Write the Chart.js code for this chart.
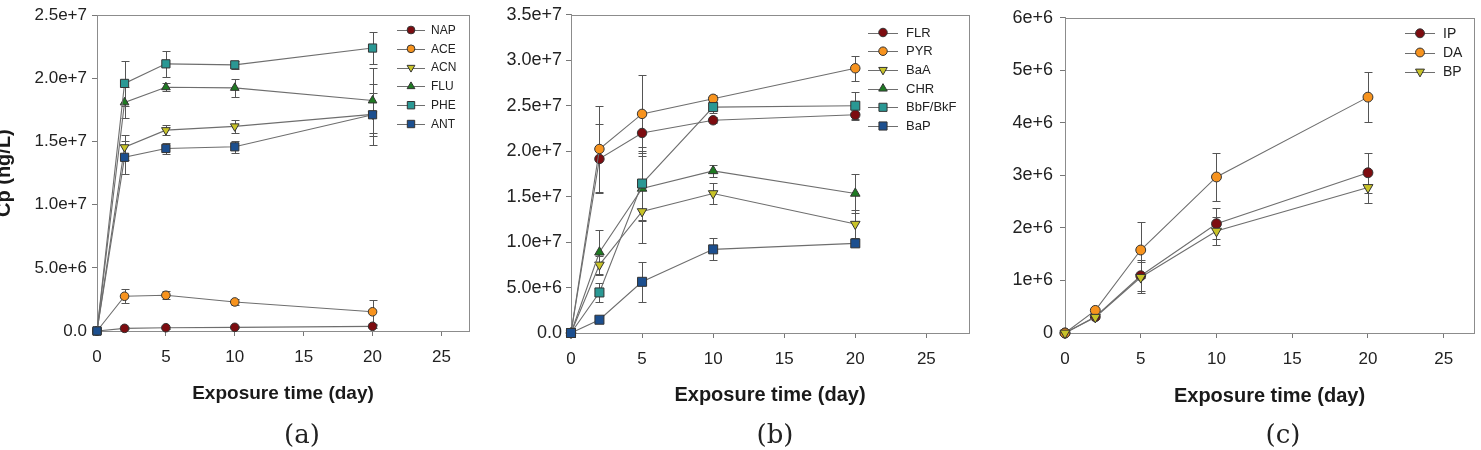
<!DOCTYPE html>
<html>
<head>
<meta charset="utf-8">
<script src="https://cdn.jsdelivr.net/npm/chart.js@4.4.1/dist/chart.umd.min.js"></script>
<style>
  body { margin: 0; background: #fff; width: 1481px; height: 450px; overflow: hidden; position: relative; }
  .panel { position: absolute; top: 0; height: 450px; }
  .tag { position: absolute; top: 419px; font: 26px "DejaVu Serif", "Liberation Serif", serif; line-height: 30px; transform: translateX(-50%); color: #222; }
</style>
</head>
<body>
<div class="panel" style="left:-11px;width:493px"><canvas id="chartA"></canvas></div>
<div class="panel" style="left:490px;width:490px"><canvas id="chartB"></canvas></div>
<div class="panel" style="left:980px;width:501px"><canvas id="chartC"></canvas></div>
<div class="tag" style="left:302px">(a)</div>
<div class="tag" style="left:775px">(b)</div>
<div class="tag" style="left:1283px">(c)</div>
<script>
// exposure days and axis ticks
const days = [0, 2, 5, 10, 20];
const xTicks = [0, 5, 10, 15, 20, 25];

const yTicksA = [0, 5e6, 1e7, 1.5e7, 2e7, 2.5e7];
const yLabelsA = ['0.0', '5.0e+6', '1.0e+7', '1.5e+7', '2.0e+7', '2.5e+7'];
const yTicksB = [0, 5e6, 1e7, 1.5e7, 2e7, 2.5e7, 3e7, 3.5e7];
const yLabelsB = ['0.0', '5.0e+6', '1.0e+7', '1.5e+7', '2.0e+7', '2.5e+7', '3.0e+7', '3.5e+7'];
const yTicksC = [0, 1e6, 2e6, 3e6, 4e6, 5e6, 6e6];
const yLabelsC = ['0', '1e+6', '2e+6', '3e+6', '4e+6', '5e+6', '6e+6'];

// (a) Cp values and errors
const napVals = [0, 0.21e6, 0.26e6, 0.29e6, 0.37e6];
const napErr  = [0, 0.08e6, 0.08e6, 0.08e6, 0.12e6];
const aceVals = [0, 2.75e6, 2.83e6, 2.3e6, 1.52e6];
const aceErr  = [0, 0.55e6, 0.3e6, 0.25e6, 0.95e6];
const acnVals = [0, 14.55e6, 15.9e6, 16.2e6, 17.15e6];
const acnErr  = [0, 1.0e6, 0.4e6, 0.5e6, 1.7e6];
const fluVals = [0, 18.1e6, 19.3e6, 19.25e6, 18.25e6];
const fluErr  = [0, 1.2e6, 0.3e6, 0.7e6, 2.6e6];
const pheVals = [0, 19.6e6, 21.15e6, 21.07e6, 22.4e6];
const pheErr  = [0, 1.75e6, 1.05e6, 0.3e6, 1.25e6];
const antVals = [0, 13.75e6, 14.45e6, 14.58e6, 17.12e6];
const antErr  = [0, 1.3e6, 0.45e6, 0.45e6, 2.4e6];

// (b)
const flrVals = [0, 19.15e6, 22.0e6, 23.4e6, 24.0e6];
const flrErr  = [0, 3.8e6, 2.0e6, 0.35e6, 0.6e6];
const pyrVals = [0, 20.24e6, 24.1e6, 25.76e6, 29.12e6];
const pyrErr  = [0, 4.7e6, 4.3e6, 0.4e6, 1.4e6];
const baaVals = [0, 7.5e6, 13.37e6, 15.35e6, 11.98e6];
const baaErr  = [0, 1.0e6, 3.5e6, 1.2e6, 1.5e6];
const chrVals = [0, 8.88e6, 15.9e6, 17.83e6, 15.35e6];
const chrErr  = [0, 2.5e6, 3.6e6, 0.7e6, 2.1e6];
const bbfVals = [0, 4.46e6, 16.44e6, 24.85e6, 25.0e6];
const bbfErr  = [0, 1.0e6, 4.0e6, 0.6e6, 1.5e6];
const bapVals = [0, 1.46e6, 5.63e6, 9.2e6, 9.86e6];
const bapErr  = [0, 0.2e6, 2.2e6, 1.2e6, 0.3e6];

// (c)
const ipVals = [0, 0.31e6, 1.09e6, 2.08e6, 3.05e6];
const ipErr  = [0, 0.03e6, 0.3e6, 0.3e6, 0.38e6];
const daVals = [0, 0.43e6, 1.58e6, 2.97e6, 4.49e6];
const daErr  = [0, 0.05e6, 0.53e6, 0.46e6, 0.48e6];
const bpVals = [0, 0.3e6, 1.06e6, 1.94e6, 2.77e6];
const bpErr  = [0, 0.03e6, 0.3e6, 0.27e6, 0.29e6];

const DARKRED = '#7d0c10', ORANGE = '#f7931e', OLIVE = '#c8c328',
      GREEN = '#1e7a22', TEAL = '#2a9894', BLUE = '#1c4f8f';

const circle = { shape: 'circle', rot: 0, r: 4.3 };
const up = { shape: 'triangle', rot: 0, r: 5 };
const down = { shape: 'triangle', rot: 180, r: 5 };
const square = { shape: 'rect', rot: 0, r: 5.8 };

Chart.defaults.font.family = '"Liberation Sans", Arial, sans-serif';
Chart.defaults.color = '#222';

function series(label, vals, errs, color, st, k, order) {
  return {
    label: label,
    order: order, // later series are drawn on top, as in the figure
    data: days.map((d, i) => ({ x: d, y: vals[i] })),
    errors: errs,
    borderColor: '#6e6e6e',
    borderWidth: 1.1,
    pointBackgroundColor: color,
    pointBorderColor: '#333',
    pointBorderWidth: 1,
    pointStyle: st.shape,
    pointRotation: st.rot,
    pointRadius: st.r * k,
    clip: false,
    tension: 0
  };
}

const frame = {
  id: 'frame',
  beforeDatasetsDraw(chart) {
    const { ctx, chartArea: a } = chart;
    ctx.save();
    ctx.strokeStyle = '#8c8c8c';
    ctx.lineWidth = 1;
    ctx.strokeRect(Math.round(a.left) + 0.5, Math.round(a.top) + 0.5,
      Math.round(a.right - a.left), Math.round(a.bottom - a.top));
    ctx.restore();
  }
};

const errorBars = {
  id: 'errorBars',
  beforeDatasetsDraw(chart) {
    const { ctx } = chart;
    const ys = chart.scales.y;
    ctx.save();
    ctx.strokeStyle = '#555';
    ctx.lineWidth = 1;
    chart.data.datasets.forEach((ds, di) => {
      chart.getDatasetMeta(di).data.forEach((pt, i) => {
        const e = ds.errors[i];
        if (!e) return;
        const v = ds.data[i].y;
        const top = Math.round(ys.getPixelForValue(v + e)) + 0.5;
        const bot = Math.round(ys.getPixelForValue(v - e)) + 0.5;
        const x = Math.round(pt.x) + 0.5;
        ctx.beginPath();
        ctx.moveTo(x, top); ctx.lineTo(x, bot);
        ctx.moveTo(x - 4, top); ctx.lineTo(x + 4, top);
        ctx.moveTo(x - 4, bot); ctx.lineTo(x + 4, bot);
        ctx.stroke();
      });
    });
    ctx.restore();
  }
};

const boxLegend = {
  id: 'boxLegend',
  afterDatasetsDraw(chart, args, opts) {
    const { ctx } = chart;
    ctx.save();
    ctx.font = opts.size + 'px "Liberation Sans", Arial, sans-serif';
    ctx.textBaseline = 'middle';
    chart.data.datasets.forEach((ds, i) => {
      const y = opts.y0 + i * opts.dy;
      ctx.strokeStyle = '#6e6e6e';
      ctx.lineWidth = 1;
      ctx.beginPath();
      ctx.moveTo(opts.x, Math.round(y) + 0.5);
      ctx.lineTo(opts.x + opts.len, Math.round(y) + 0.5);
      ctx.stroke();
      ctx.fillStyle = ds.pointBackgroundColor;
      ctx.strokeStyle = ds.pointBorderColor;
      Chart.helpers.drawPoint(ctx, {
        pointStyle: ds.pointStyle, rotation: ds.pointRotation,
        radius: ds.pointRadius * 0.9, borderWidth: 1
      }, opts.x + opts.len / 2, y);
      ctx.fillStyle = '#222';
      ctx.fillText(ds.label, opts.textX, y + 0.5);
    });
    ctx.restore();
  }
};

function makeChart(id, p) {
  return new Chart(document.getElementById(id), {
    type: 'line',
    data: { datasets: p.datasets },
    plugins: [frame, errorBars, boxLegend],
    options: {
      responsive: true,
      maintainAspectRatio: false,
      animation: false,
      layout: { autoPadding: false, padding: { top: p.top, right: p.right, left: 0, bottom: p.bottom } },
      plugins: {
        legend: { display: false },
        tooltip: { enabled: false },
        boxLegend: p.legend
      },
      scales: {
        x: {
          type: 'linear',
          min: 0,
          max: p.xMax,
          afterBuildTicks: s => { s.ticks = xTicks.map(v => ({ value: v })); },
          afterFit: s => { s.height = p.xH; },
          ticks: { font: { size: 17 }, padding: 11, color: '#222' },
          grid: { display: true, drawOnChartArea: false, drawTicks: true, tickLength: 5, color: '#777' },
          border: { display: true, color: '#8c8c8c' },
          title: { display: true, text: 'Exposure time (day)', font: { size: p.xTitle, weight: 'bold' }, padding: { top: 0, bottom: 0 }, color: '#1a1a1a' }
        },
        y: {
          min: 0,
          max: p.yMax,
          afterBuildTicks: s => { s.ticks = p.yTicks.map(v => ({ value: v })); },
          afterFit: s => { s.width = p.yW; },
          ticks: { font: { size: p.yFont }, padding: p.yPad, color: '#222', callback: (v, i) => p.yLabels[i] },
          grid: { display: true, drawOnChartArea: false, drawTicks: true, tickLength: 5, color: '#777' },
          border: { display: true, color: '#8c8c8c' },
          title: p.yTitle ? { display: true, text: p.yTitle, font: { size: 20, weight: 'bold' }, padding: { top: 3, bottom: 0 }, color: '#1a1a1a' } : { display: false }
        }
      }
    }
  });
}

makeChart('chartA', {
  datasets: [
    series('NAP', napVals, napErr, DARKRED, circle, 1, 6),
    series('ACE', aceVals, aceErr, ORANGE, circle, 1, 5),
    series('ACN', acnVals, acnErr, OLIVE, down, 1, 4),
    series('FLU', fluVals, fluErr, GREEN, up, 1, 3),
    series('PHE', pheVals, pheErr, TEAL, square, 1, 2),
    series('ANT', antVals, antErr, BLUE, square, 1, 1)
  ],
  top: 13, right: 13, bottom: 45, xH: 74, yW: 108,
  xMax: 27, yMax: 2.5e7, yTicks: yTicksA, yLabels: yLabelsA,
  yFont: 17, yPad: 5, xTitle: 19, yTitle: 'Cp (ng/L)',
  legend: { x: 408, len: 28, textX: 442, y0: 30, dy: 18.8, size: 12 }
});

makeChart('chartB', {
  datasets: [
    series('FLR', flrVals, flrErr, DARKRED, circle, 1.1, 6),
    series('PYR', pyrVals, pyrErr, ORANGE, circle, 1.1, 5),
    series('BaA', baaVals, baaErr, OLIVE, down, 1.1, 4),
    series('CHR', chrVals, chrErr, GREEN, up, 1.1, 3),
    series('BbF/BkF', bbfVals, bbfErr, TEAL, square, 1.1, 2),
    series('BaP', bapVals, bapErr, BLUE, square, 1.1, 1)
  ],
  top: 14, right: 11, bottom: 43, xH: 74, yW: 81,
  xMax: 28, yMax: 3.5e7, yTicks: yTicksB, yLabels: yLabelsB,
  yFont: 18, yPad: 4, xTitle: 20, yTitle: null,
  legend: { x: 378, len: 30, textX: 416, y0: 32.5, dy: 18.7, size: 13 }
});

makeChart('chartC', {
  datasets: [
    series('IP', ipVals, ipErr, DARKRED, circle, 1.15, 3),
    series('DA', daVals, daErr, ORANGE, circle, 1.15, 2),
    series('BP', bpVals, bpErr, OLIVE, down, 1.15, 1)
  ],
  top: 14, right: 7, bottom: 42, xH: 75, yW: 85,
  xMax: 27, yMax: 6e6, yTicks: yTicksC, yLabels: yLabelsC,
  yFont: 18, yPad: 7, xTitle: 20, yTitle: null,
  legend: { x: 425, len: 30, textX: 463, y0: 33.3, dy: 19.2, size: 14 }
});
</script>
</body>
</html>
